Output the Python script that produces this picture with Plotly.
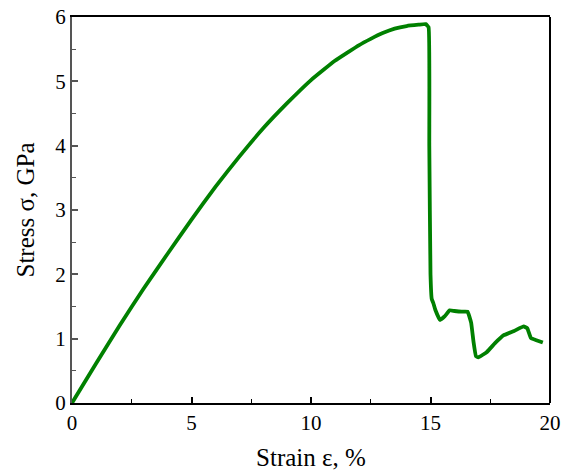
import plotly.graph_objects as go

strain = [0, 1, 2, 3, 4, 5, 6, 7, 8, 9, 10, 11, 12, 12.5, 13, 13.5, 14, 14.5, 14.8,
          14.92, 14.95, 15.0, 15.05, 15.12, 15.2, 15.4, 15.6, 15.8, 16.0, 16.3, 16.55,
          16.7, 16.8, 16.9, 17.0, 17.35, 17.7, 18.05, 18.5, 18.9, 19.05, 19.2, 19.4, 19.7]
stress = [0, 0.61, 1.21, 1.78, 2.32, 2.85, 3.36, 3.83, 4.27, 4.66, 5.02, 5.32, 5.56, 5.66,
          5.75, 5.82, 5.86, 5.88, 5.89, 5.84, 4.0, 2.0, 1.62, 1.55, 1.45, 1.29, 1.35, 1.44,
          1.43, 1.42, 1.42, 1.25, 0.95, 0.73, 0.71, 0.79, 0.93, 1.05, 1.12, 1.19, 1.16,
          1.01, 0.98, 0.94]

x_ticks = [0, 5, 10, 15, 20]
y_ticks = [0, 1, 2, 3, 4, 5, 6]

font_family = "Liberation Serif, Times New Roman, serif"

fig = go.Figure()
fig.add_trace(go.Scatter(x=strain, y=stress, mode="lines",
                         line=dict(color="#008000", width=3.8, shape="spline", smoothing=0.3),
                         showlegend=False))

axis_common = dict(
    showgrid=False, zeroline=False, showline=True, linewidth=2,
    ticks="inside", ticklen=6, tickwidth=1.5, automargin=False,
    tickfont=dict(family=font_family, size=21, color="black"),
)

fig.update_layout(
    width=561, height=475,
    margin=dict(l=72, r=11, t=17, b=72),
    paper_bgcolor="white", plot_bgcolor="white",
    xaxis=dict(range=[0, 20], tickvals=x_ticks, linecolor="black", tickcolor="black",
               mirror=True,
               minor=dict(dtick=2.5, ticks="inside", ticklen=4, tickwidth=1.3, tickcolor="black"),
               title=dict(text="Strain ε, %", font=dict(family=font_family, size=25, color="black"),
                          standoff=14),
               **axis_common),
    yaxis=dict(range=[0, 6], tickvals=y_ticks, linecolor="#555555", tickcolor="#555555",
               mirror=False,
               minor=dict(dtick=0.5, ticks="inside", ticklen=4, tickwidth=1.3, tickcolor="#555555"),
               title=dict(text="Stress σ, GPa", font=dict(family=font_family, size=25, color="black"),
                          standoff=14),
               **axis_common),
    shapes=[dict(type="line", xref="paper", yref="paper", x0=1, x1=1, y0=0, y1=1,
                 line=dict(color="black", width=2))],
)

fig.write_html("out.html", config={"displayModeBar": False},
               post_script="document.body.style.margin='0';")
